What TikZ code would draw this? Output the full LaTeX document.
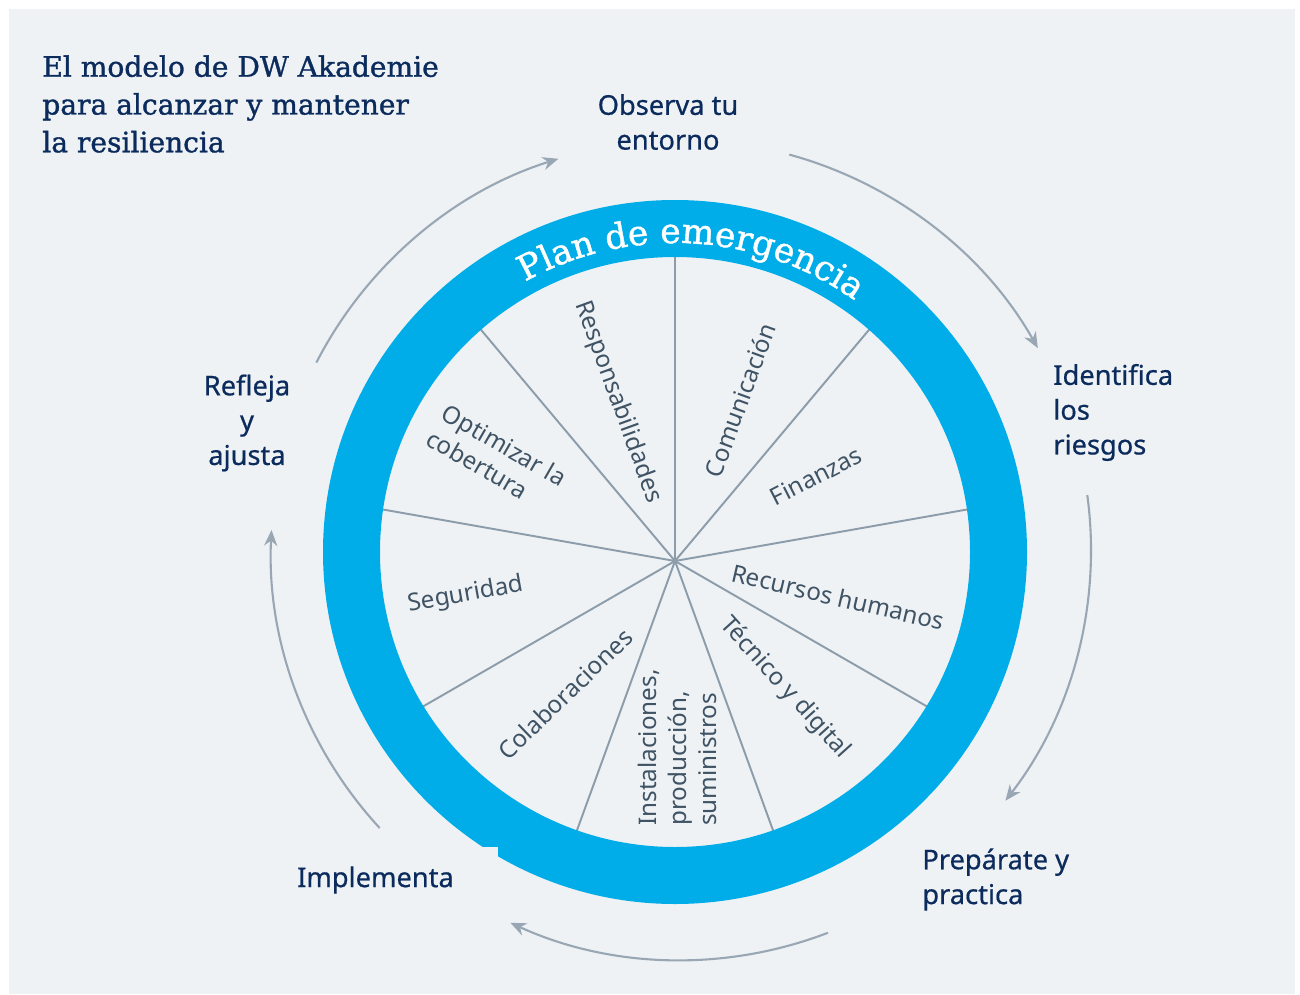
\documentclass[tikz,border=0pt]{standalone}
\usepackage{fontspec}
\setmainfont{Noto Sans}
\newfontfamily\dwserif[FakeBold=1.2]{DejaVu Serif}
\newfontfamily\phasefont[FakeBold=0.6]{Noto Sans}
\usetikzlibrary{arrows.meta,decorations.text}

\definecolor{bgpanel}{HTML}{EEF2F5}
\definecolor{dwblue}{HTML}{00ADE8}
\definecolor{spokegray}{HTML}{8C9CAB}
\definecolor{wedgeink}{HTML}{3F5364}
\definecolor{navy}{HTML}{0B2B5C}
\definecolor{arcgray}{HTML}{99A7B4}

\newcommand{\wedgelabel}[4]{\node [wedgetext, rotate=#3] (#1) at (#2) {#4}}

\begin{document}
\begin{tikzpicture}[x=0.02cm, y=0.02cm,
  wedgetext/.style={text=wedgeink, font=\fontsize{13.8}{17}\selectfont, align=left, inner sep=0pt},
  phase/.style={text=navy, font=\phasefont\fontsize{15.5}{19.8}\selectfont, inner sep=0pt},
  flow/.style={arcgray, line width=1.2pt, -{Stealth[length=9pt,width=7.5pt]}},
  spoke/.style={spokegray, line width=1.1pt}]

\useasboundingbox (-675,-442) rectangle (625,552);
\fill[bgpanel] (-666,-442) rectangle (620,543);

\coordinate (O) at (0,0);
\coordinate (hub) at (0,-9);

% spokes every 40 degrees, the ring hides their ends
\foreach \a in {90,50,...,-230}
  \draw[spoke] (hub) -- +(\a:320);

\fill[dwblue, even odd rule] (O) circle[radius=352] (O) circle[radius=295];
\fill[bgpanel] (-205,-295) rectangle (-177,-318);

\path[decorate, decoration={text along path, text align=center, text color=white,
  text={|\dwserif\fontsize{19.7}{20}\selectfont|Plan de emergencia}}]
  (131.75:309) arc[start angle=131.75, end angle=41.75, radius=309];

\wedgelabel{RES}{-57,150}{-70}{Responsabilidades};
\wedgelabel{COM}{65,152}{70}{Comunicación};
\wedgelabel{FIN}{141,76}{27}{Finanzas};
\wedgelabel{RRHH}{163,-45}{-13}{Recursos humanos};
\wedgelabel{TEC}{110,-136}{-48}{Técnico y digital};
\wedgelabel{INS}{2.5,-195.5}{90}{Instalaciones,\\producción,\\suministros};
\wedgelabel{COL}{-110,-142}{44}{Colaboraciones};
\wedgelabel{SEG}{-209,-43}{10}{Seguridad};
\wedgelabel{OPT}{-178,94}{-30}{Optimizar la\\cobertura};

\node[phase, align=center] (OBS) at (-7,430) {Observa tu\\entorno};
\node[phase, align=left, anchor=west] (IDE) at (378,139.5) {Identifica\\los\\riesgos};
\node[phase, align=left, anchor=west] (PRE) at (247,-327.5) {Prepárate y\\practica};
\node[phase] (IMP) at (-299.5,-328) {Implementa};
\node[phase, align=center] (REF) at (-428,129) {Refleja\\y\\ajusta};

% the cycle around the wheel
\begin{scope}[shift={(6,2)}]
\draw[flow] (74.7:410) arc[start angle=74.7, end angle=29.5, radius=410];
\draw[flow] (7.7:410) arc[start angle=7.7, end angle=-37.7, radius=410];
\draw[flow] (-69:410) arc[start angle=-69, end angle=-114.6, radius=410];
\draw[flow] (-137.3:410) arc[start angle=-137.3, end angle=-182.8, radius=410];
\draw[flow] (152.8:410) arc[start angle=152.8, end angle=107.4, radius=410];
\end{scope}

\node[anchor=north west, align=left, text=navy, inner sep=0pt,
  font=\dwserif\fontsize{16}{21.5}\selectfont] (title) at (-633,497)
  {El modelo de DW Akademie\\para alcanzar y mantener\\la resiliencia};

\end{tikzpicture}
\end{document}
